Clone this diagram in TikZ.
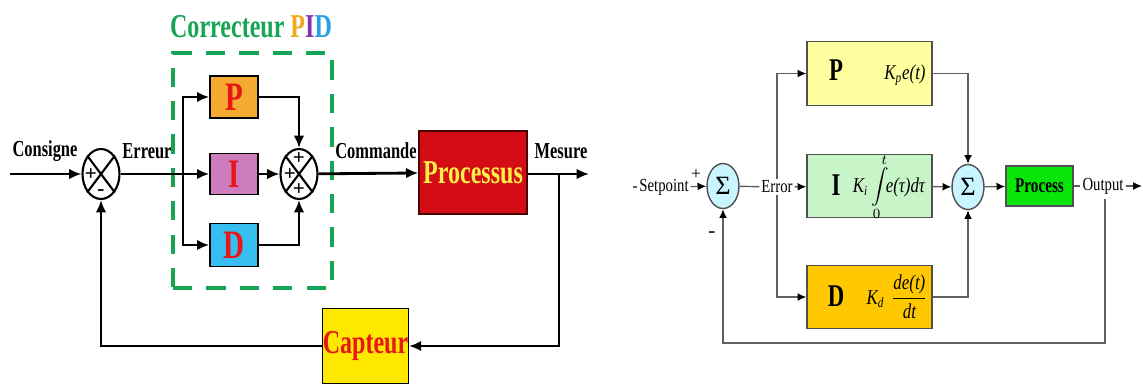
\documentclass[tikz,border=0pt]{standalone}
\usepackage{fontspec}
\setmainfont{Liberation Serif}
\newfontfamily\cond[FakeStretch=0.72]{Liberation Serif}
\newfontfamily\condr[FakeStretch=0.8]{Liberation Serif}
\usetikzlibrary{arrows.meta,shapes.geometric,calc}
\definecolor{gfr}{RGB}{22,165,85}
\definecolor{tP}{RGB}{240,170,30}
\definecolor{tI}{RGB}{130,50,170}
\definecolor{tD}{RGB}{40,160,225}
\definecolor{porange}{RGB}{245,170,50}
\definecolor{ipink}{RGB}{205,125,190}
\definecolor{dblue}{RGB}{55,190,240}
\definecolor{pred}{RGB}{212,12,22}
\definecolor{cyel}{RGB}{255,232,0}
\definecolor{lred}{RGB}{232,22,22}
\definecolor{tyel}{RGB}{255,240,70}
\definecolor{rgray}{RGB}{95,95,95}
\definecolor{rborder}{RGB}{80,80,80}
\definecolor{rpy}{RGB}{255,255,160}
\definecolor{rig}{RGB}{200,245,200}
\definecolor{rdo}{RGB}{255,200,0}
\definecolor{rcyan}{RGB}{200,245,255}
\definecolor{rgreen}{RGB}{10,230,10}
\tikzset{
  lbl/.style={font=\cond\bfseries\fontsize{13}{13}\selectfont, inner sep=0pt},
  sumL/.style={ellipse, draw, line width=1.2pt, minimum width=0.74cm, minimum height=1.0cm, inner sep=0pt},
  sgn/.style={font=\bfseries\fontsize{12}{12}\selectfont, inner sep=0pt},
  blk/.style={draw, line width=0.8pt, inner sep=0pt},
  la/.style={line width=1.6pt, -{Latex[length=7pt,width=6pt]}},
  ll/.style={line width=1.6pt},
  rl/.style={draw=rgray, line width=0.8pt},
  ra/.style={rl, -{Latex[length=5pt,width=4.5pt,color=black]}},
  rbox/.style={draw=rborder, line width=0.8pt, minimum width=2.5cm, minimum height=1.27cm, inner sep=0pt},
  rsum/.style={ellipse, draw=rborder, line width=0.8pt, fill=rcyan, minimum width=0.64cm, minimum height=0.9cm, inner sep=0pt, font=\fontsize{15}{15}\selectfont},
  rtxt/.style={font=\condr\fontsize{10.5}{10.5}\selectfont, inner sep=1pt},
  rlet/.style={font=\cond\bfseries\fontsize{18}{18}\selectfont, inner sep=0pt},
  rfor/.style={font=\condr\itshape\fontsize{12}{12}\selectfont, inner sep=0pt}
}
\begin{document}
\begin{tikzpicture}[x=0.02cm,y=-0.02cm]
\useasboundingbox (0,0) rectangle (1143,383);
% ---------------- left diagram ----------------
\node[font=\cond\bfseries\fontsize{19}{19}\selectfont, inner sep=0pt] (title) at (251,27)
  {\textcolor{gfr}{Correcteur} \textcolor{tP}{P}\textcolor{tI}{I}\textcolor{tD}{D}};
\node[draw=gfr, line width=2.8pt, dash pattern=on 11pt off 8pt, minimum width=3.18cm, minimum height=4.7cm] (pid) at (252.5,170.5) {};
\coordinate (c0) at (10,174);
\node[lbl] (cons) at (45,151) {Consigne};
\node[sumL] (s1) at (101,174) {};
\draw[line width=1.2pt] (s1.north west) -- (s1.south east) (s1.north east) -- (s1.south west);
\node[sgn] (s1p) at (91,175) {+};
\node[sgn] (s1m) at (101,193) {-};
\node[lbl] (err) at (147,151) {Erreur};
\coordinate (b1) at (183,174);
\node[blk, fill=porange, minimum width=0.96cm, minimum height=0.84cm, font=\cond\bfseries\fontsize{23}{23}\selectfont, text=lred] (P) at (234,97) {P};
\node[blk, fill=ipink, minimum width=0.96cm, minimum height=0.82cm, font=\cond\bfseries\fontsize{23}{23}\selectfont, text=lred] (I) at (234,174) {I};
\node[blk, fill=dblue, minimum width=0.96cm, minimum height=0.86cm, font=\cond\bfseries\fontsize{23}{23}\selectfont, text=lred] (D) at (234,245) {D};
\node[sumL] (s2) at (299,174) {};
\draw[line width=1.2pt] (s2.north west) -- (s2.south east) (s2.north east) -- (s2.south west);
\node[sgn] (s2a) at (299,159) {+};
\node[sgn] (s2b) at (290,175) {+};
\node[sgn] (s2c) at (299,190) {+};
\node[lbl] (com) at (376,151) {Commande};
\node[blk, fill=pred, draw=black!70!red, minimum width=2.16cm, minimum height=1.66cm, font=\cond\bfseries\fontsize{19}{19}\selectfont, text=tyel] (proc) at (473,172.5) {Processus};
\node[lbl] (mes) at (561,151) {Mesure};
\coordinate (m1) at (559,174);
\coordinate (out1) at (589,174);
\node[blk, fill=cyel, minimum width=1.7cm, minimum height=1.5cm, font=\cond\bfseries\fontsize{19}{19}\selectfont, text=lred] (cap) at (365.5,346) {Capteur};
\draw[la] (c0) -- (s1);
\draw[la] (s1) -- (I);
\draw[la] (b1) |- (P);
\draw[la] (b1) |- (D);
\draw[la] (I) -- (s2);
\draw[la] (P) -| (s2);
\draw[la] (D) -| (s2);
\draw[la] (s2) -- (proc);
\draw[la] (proc.east |- out1) -- (out1);
\draw[la] (m1) |- (cap);
\draw[la] (cap) -| (s1);
% ---------------- right diagram ----------------
\coordinate (sp0) at (633,187);
\node[rtxt] (sp) at (664,187) {Setpoint};
\node[rsum] (sig1) at (723,186) {Σ};
\node[font=\fontsize{10}{10}\selectfont, inner sep=0pt] (plus) at (696,175) {+};
\node[font=\fontsize{12}{12}\selectfont, inner sep=0pt] (minus) at (712,235) {-};
\node[rtxt] (errr) at (777,187) {Error};
\node[rbox, fill=rpy] (Pr) at (869.5,73.5) {};
\node[rbox, fill=rig] (Ir) at (869.5,186) {};
\node[rbox, fill=rdo] (Dr) at (869.5,297) {};
\node[rlet] (Pl) at (836,70) {P};
\node[rlet] (Il) at (836,185) {I};
\node[rlet] (Dl) at (836,296) {D};
\node[rfor] (Pf) at (905,75) {K\textsubscript{p}e(t)};
\node[rfor] (If) at (889,187) {K\textsubscript{i}\,$\displaystyle\int\limits_{0}^{t}$\!e(τ)dτ};
\node[rfor] (Df) at (897,297) {K\textsubscript{d}\,\,$\displaystyle\frac{\mbox{de(t)}}{\mbox{dt}}$};
\node[rsum] (sig2) at (968,187) {Σ};
\node[draw=rborder, line width=0.8pt, fill=rgreen, minimum width=1.34cm, minimum height=0.8cm, inner sep=0pt, font=\cond\bfseries\fontsize{12}{12}\selectfont] (prc) at (1039.5,186) {Process};
\node[rtxt] (outl) at (1103,186) {Output};
\coordinate (oend) at (1142,186);
\coordinate (fb0) at (1105,199);
\coordinate (fb1) at (1105,343);
\draw[rl] (sp0) -- (sp);
\draw[ra] (sp) -- (sig1);
\draw[rl] (sig1) -- (errr);
\draw[ra] (errr) -- (Ir);
\draw[ra] (errr.north) |- (Pr);
\draw[ra] (errr.south) |- (Dr);
\draw[ra] (Pr) -| (sig2);
\draw[ra] (Ir) -- (sig2);
\draw[ra] (Dr) -| (sig2);
\draw[ra] (sig2) -- (prc);
\draw[rl] (prc) -- (outl);
\draw[ra] (outl) -- (oend);
\draw[ra] (fb0) -- (fb1) -| (sig1);
\end{tikzpicture}
\end{document}
